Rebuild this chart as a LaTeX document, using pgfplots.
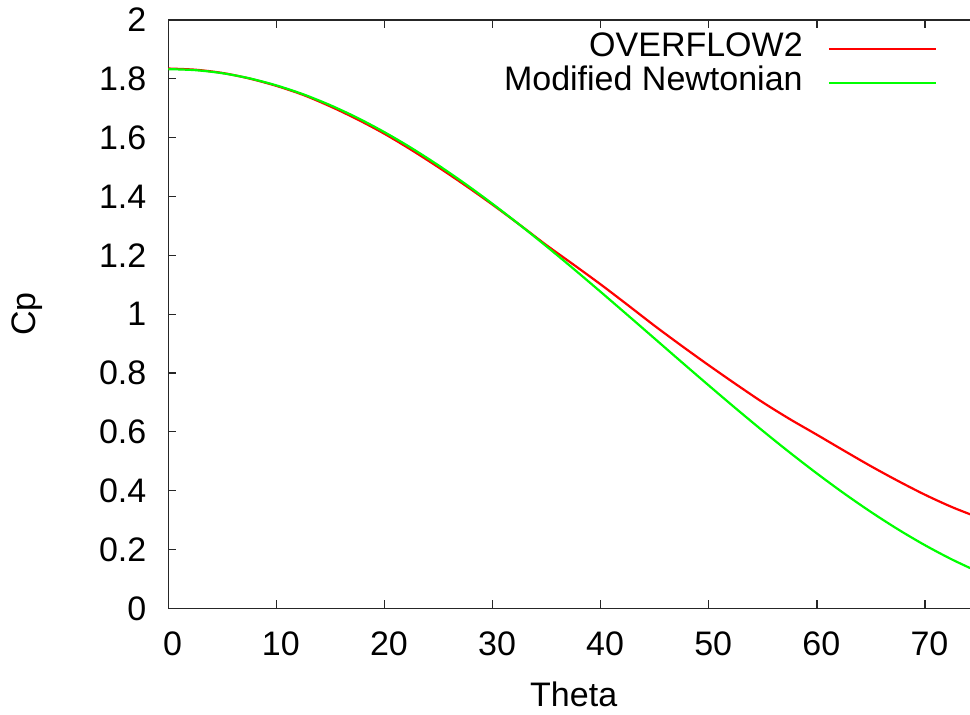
\documentclass[border=0pt]{standalone}
\usepackage{fontspec}
\setmainfont{Liberation Sans}
\usepackage{pgfplots}
\pgfplotsset{compat=1.18}
\definecolor{gpred}{RGB}{255,0,0}
\definecolor{gpgreen}{RGB}{0,255,0}
\pgfplotstableread{
theta cp
0    1.835
2.5  1.831
5    1.820
7.5  1.801
10   1.776
12.5 1.745
15   1.706
17.5 1.662
20   1.613
22.5 1.558
25   1.499
27.5 1.437
30   1.372
32.5 1.304
35   1.234
37.5 1.168
40   1.101
42.5 1.031
45   0.960
47.5 0.892
50   0.826
52.5 0.762
55   0.700
57.5 0.643
60   0.590
62.5 0.536
65   0.483
67.5 0.433
70   0.386
72.5 0.344
75   0.308
}\overflow
\pgfplotstableread{
theta cp
0    1.8330
2.5  1.8295
5    1.8191
7.5  1.8018
10   1.7777
12.5 1.7472
15   1.7102
17.5 1.6673
20   1.6186
22.5 1.5646
25   1.5056
27.5 1.4422
30   1.3748
32.5 1.3038
35   1.2300
37.5 1.1537
40   1.0756
42.5 0.9964
45   0.9165
47.5 0.8366
50   0.7574
52.5 0.6793
55   0.6030
57.5 0.5292
60   0.4583
62.5 0.3908
65   0.3274
67.5 0.2684
70   0.2144
72.5 0.1658
75   0.1228
}\newton
\begin{document}
\begin{tikzpicture}
\begin{axis}[
  scale only axis,
  width=405.4pt, height=294.15pt,
  xmin=0, xmax=75, ymin=0, ymax=2,
  xtick={0,10,20,30,40,50,60,70},
  ytick={0,0.2,0.4,0.6,0.8,1,1.2,1.4,1.6,1.8,2},
  tick align=inside, tick pos=both,
  major tick length=4pt,
  axis line style={line width=0.6pt, black!85},
  tick style={line width=0.6pt, black!85},
  /pgf/number format/assume math mode=true,
  ticklabel style={font=\fontsize{17}{20}\selectfont},
  xticklabel style={anchor=north, inner sep=0pt, yshift=-11.7pt, xshift=2.2pt},
  yticklabel style={anchor=east, inner sep=0pt, xshift=-10.8pt},
  xlabel={Theta}, ylabel={Cp},
  label style={font=\fontsize{17}{20}\selectfont},
  xlabel style={at={(axis description cs:0.5,-0.1248)}, anchor=north, inner sep=0pt},
  ylabel style={at={(axis description cs:-0.1542,0.5)}, anchor=south, inner sep=0pt},
  legend plot pos=right,
  legend cell align=right,
  legend image code/.code={\draw[#1] (0pt,0pt) -- (53.4pt,0pt);},
  legend style={draw=none, fill=none, font=\fontsize{17}{20}\selectfont,
    at={(axis description cs:0.9477,0.9800)}, anchor=north east,
    inner sep=0pt, outer sep=0pt, row sep=0pt, column sep=12.5pt,
    nodes={inner sep=0pt, text height=12.5pt, text depth=4.5pt}},
]
\addplot[gpred, line width=1.1pt, smooth] table[x=theta, y=cp] {\overflow};
\addlegendentry{OVERFLOW2}
\addplot[gpgreen, line width=1.1pt, smooth] table[x=theta, y=cp] {\newton};
\addlegendentry{Modified Newtonian}
\end{axis}
\pgfresetboundingbox
\path[use as bounding box] ([shift={(-84.15pt,-52.85pt)}]current axis.south west) rectangle ([shift={(400.85pt,304.15pt)}]current axis.south west);
\end{tikzpicture}
\end{document}
